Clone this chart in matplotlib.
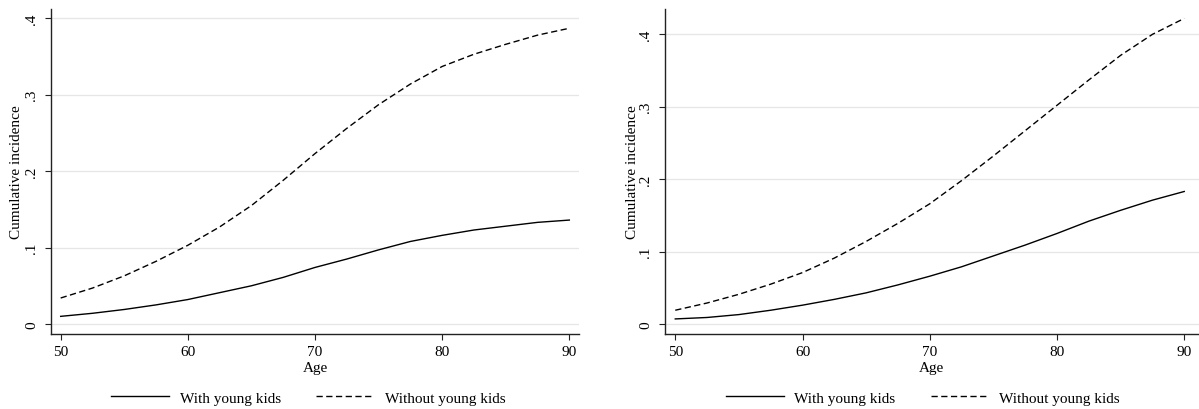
import matplotlib
matplotlib.use("Agg")
import matplotlib.pyplot as plt

plt.rcParams['font.family'] = ['Liberation Serif', 'DejaVu Serif']
plt.rcParams['font.size'] = 11

age = [50, 52.5, 55, 57.5, 60, 62.5, 65, 67.5, 70, 72.5, 75, 77.5, 80, 82.5, 85, 87.5, 90]

# left panel
left_with = [0.010, 0.014, 0.019, 0.025, 0.032, 0.041, 0.050, 0.061, 0.074,
             0.085, 0.097, 0.108, 0.116, 0.123, 0.128, 0.133, 0.136]
left_without = [0.034, 0.047, 0.063, 0.082, 0.103, 0.127, 0.155, 0.188, 0.223,
                0.256, 0.287, 0.314, 0.337, 0.353, 0.366, 0.378, 0.387]

# right panel
right_with = [0.007, 0.009, 0.013, 0.019, 0.026, 0.034, 0.043, 0.054, 0.066,
              0.079, 0.094, 0.109, 0.125, 0.142, 0.157, 0.171, 0.183]
right_without = [0.019, 0.029, 0.041, 0.055, 0.071, 0.091, 0.114, 0.139, 0.166,
                 0.198, 0.232, 0.267, 0.302, 0.337, 0.371, 0.400, 0.422]

x_ticks = [50, 60, 70, 80, 90]
y_ticks = [0, 0.1, 0.2, 0.3, 0.4]
y_tick_labels = ["0", ".1", ".2", ".3", ".4"]
labels = ["With young kids", "Without young kids"]


def draw_panel(ax, y_with, y_without, xlim, ylim, ylab_x, leg_x):
    ax.plot(age, y_with, color='black', lw=1.0, label=labels[0])
    ax.plot(age, y_without, color='black', lw=1.0, dashes=(4.5, 2.5), label=labels[1])

    ax.set_xlim(*xlim)
    ax.set_ylim(*ylim)
    ax.set_xticks(x_ticks)
    ax.set_yticks(y_ticks)
    ax.set_yticklabels(y_tick_labels, rotation=90, va='center')
    ax.grid(axis='y', color='#e6e6e6', lw=0.9)
    ax.set_axisbelow(True)

    for side in ['top', 'right']:
        ax.spines[side].set_visible(False)
    for side in ['left', 'bottom']:
        ax.spines[side].set_color('#222222')
        ax.spines[side].set_linewidth(1.0)
    ax.tick_params(direction='out', length=4, width=0.8, color='#222222', pad=4)
    ax.tick_params(axis='y', pad=5)

    ax.set_xlabel("Age")
    ax.xaxis.set_label_coords(0.5, -0.084)
    ax.set_ylabel("Cumulative incidence")
    ax.yaxis.set_label_coords(ylab_x, 0.5)

    ax.legend(loc='center', bbox_to_anchor=(leg_x, -0.197), ncol=2, frameon=False,
              handlelength=3.8, handletextpad=0.7, columnspacing=2.3)


fig = plt.figure(figsize=(11.99, 4.10), dpi=100)

ax1 = fig.add_axes([51 / 1199, (410 - 334.7) / 410, 528 / 1199, 324.7 / 410])
draw_panel(ax1, left_with, left_without, (49.24, 90.76), (-0.0127, 0.4122), -0.053, 0.487)

ax2 = fig.add_axes([664.7 / 1199, (410 - 334.7) / 410, 534.3 / 1199, 324.7 / 410])
draw_panel(ax2, right_with, right_without, (49.17, 91.16), (-0.0134, 0.435), -0.049, 0.483)

fig.savefig("out.png", dpi=100)
